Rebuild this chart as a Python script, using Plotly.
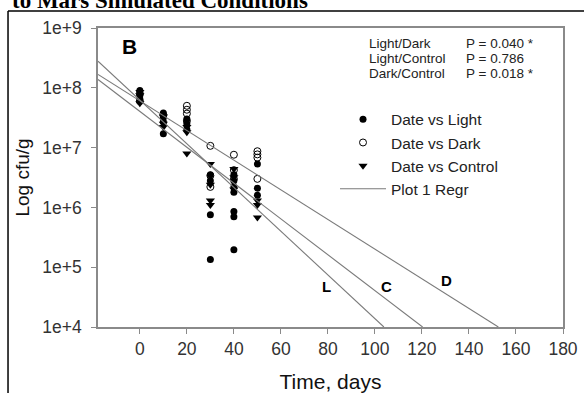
import numpy as np
import plotly.graph_objects as go

# ---- data ----
light_x = [0, 0, 0, 10, 10, 10, 10, 20, 20, 20, 30, 30, 30, 30,
           40, 40, 40, 40, 40, 40, 40, 50, 50, 50]
light_y = [9.0e7, 7.5e7, 6.5e7, 3.8e7, 3.2e7, 2.7e7, 1.7e7, 3.0e7, 2.5e7, 2.0e7,
           3.5e6, 2.8e6, 7.5e5, 1.35e5, 3.5e6, 2.8e6, 2.2e6, 1.8e6, 8.5e5, 7.0e5,
           1.95e5, 5.3e6, 2.1e6, 1.6e6]

dark_x = [0, 0, 10, 20, 20, 20, 20, 30, 30, 30, 40, 40, 40, 50, 50, 50, 50]
dark_y = [8.0e7, 6.0e7, 3.5e7, 5.0e7, 4.3e7, 3.7e7, 2.8e7, 1.07e7, 3.4e6, 2.2e6,
          7.6e6, 4.2e6, 3.0e6, 8.7e6, 7.7e6, 6.8e6, 3.0e6]

control_x = [0, 0, 0, 10, 10, 10, 20, 20, 20, 30, 30, 30, 30, 40, 40, 40, 50, 50, 50]
control_y = [8.5e7, 7.5e7, 5.5e7, 3.3e7, 2.5e7, 2.2e7, 2.2e7, 1.8e7, 8.0e6,
             5.3e6, 2.4e6, 1.3e6, 1.1e6, 4.4e6, 3.2e6, 2.0e6, 1.3e6, 1.1e6, 6.8e5]

# regression lines: log10(cfu/g) = intercept + slope * day
regr_names = ["L", "C", "D"]
regr_intercept = [7.794, 7.606, 7.782]
regr_slope = [-0.03655, -0.02998, -0.0248]
regr_label_x = [79.5, 104.8, 130.4]
regr_label_logy = [4.68, 4.68, 4.78]

p_pairs = ["Light/Dark", "Light/Control", "Dark/Control"]
p_values = ["P = 0.040 *", "P = 0.786", "P = 0.018 *"]

x_ticks = [0, 20, 40, 60, 80, 100, 120, 140, 160, 180]
y_ticks = [1e4, 1e5, 1e6, 1e7, 1e8, 1e9]
y_ticktext = ["1e+4", "1e+5", "1e+6", "1e+7", "1e+8", "1e+9"]

X_RANGE = [-17.8, 180]
Y_LOG_MIN = 4

FONT = "Liberation Sans, Arial, sans-serif"
AXIS_GRAY = "#8a8a8a"
TEXT_GRAY = "#333333"

fig = go.Figure()

fig.add_trace(go.Scatter(
    x=light_x, y=light_y, mode="markers", name="Date vs Light", legendrank=1,
    marker=dict(symbol="circle", size=7, color="black", line=dict(width=0))))
fig.add_trace(go.Scatter(
    x=control_x, y=control_y, mode="markers", name="Date vs Control", legendrank=3,
    marker=dict(symbol="triangle-down", size=8, color="black", line=dict(width=0))))
fig.add_trace(go.Scatter(
    x=dark_x, y=dark_y, mode="markers", name="Date vs Dark", legendrank=2,
    marker=dict(symbol="circle-open", size=7, color="black", line=dict(width=1))))

for i, (b0, b1) in enumerate(zip(regr_intercept, regr_slope)):
    x_end = (Y_LOG_MIN - b0) / b1
    xs = np.linspace(X_RANGE[0], x_end, 50)
    ys = 10 ** (b0 + b1 * xs)
    fig.add_trace(go.Scatter(
        x=xs, y=ys, mode="lines", name="Plot 1 Regr", legendgroup="regr",
        legendrank=4, showlegend=(i == 0),
        line=dict(color="#7a7a7a", width=1.1), hoverinfo="skip"))

annotations = []
for name, lx, ly in zip(regr_names, regr_label_x, regr_label_logy):
    annotations.append(dict(x=lx, y=ly, xref="x", yref="y", text="<b>%s</b>" % name,
                            showarrow=False, font=dict(family=FONT, size=15, color="black")))

p_rows_y = [0.947, 0.897, 0.847]
for pair, pv, yy in zip(p_pairs, p_values, p_rows_y):
    annotations.append(dict(x=0.578, y=yy, xref="paper", yref="paper", text=pair,
                            xanchor="left", yanchor="middle", showarrow=False,
                            font=dict(family=FONT, size=13.5, color="#222")))
    annotations.append(dict(x=0.787, y=yy, xref="paper", yref="paper", text=pv,
                            xanchor="left", yanchor="middle", showarrow=False,
                            font=dict(family=FONT, size=13.5, color="#222")))

annotations.append(dict(x=0.0688, y=0.9375, xref="paper", yref="paper", text="<b>B</b>",
                        showarrow=False, xanchor="center", yanchor="middle",
                        font=dict(family=FONT, size=21, color="black")))

annotations.append(dict(x=-0.19, y=1.045, xref="paper", yref="paper",
                        text="<b>to Mars Simulated Conditions</b>",
                        showarrow=False, xanchor="left", yanchor="bottom",
                        font=dict(family="Liberation Serif, Times New Roman, serif",
                                  size=23, color="black")))

shapes = [
    dict(type="line", xref="paper", yref="paper", x0=-0.1935, x1=-0.1935,
         y0=1.0569, y1=-0.3, line=dict(color="black", width=1.5)),
    dict(type="line", xref="paper", yref="paper", x0=-0.1935, x1=1.2,
         y0=1.0569, y1=1.0569, line=dict(color="black", width=1.5)),
]

fig.update_layout(
    width=584, height=393,
    margin=dict(l=98, r=21, t=28, b=66),
    paper_bgcolor="white", plot_bgcolor="white",
    font=dict(family=FONT, color=TEXT_GRAY),
    annotations=annotations, shapes=shapes,
    legend=dict(x=0.5097, y=0.75, xanchor="left", yanchor="top",
                bgcolor="rgba(0,0,0,0)", borderwidth=0,
                font=dict(family=FONT, size=15.5, color="#222"),
                tracegroupgap=0, itemwidth=46),
    showlegend=True,
)

fig.update_xaxes(
    automargin=False,
    range=X_RANGE, tickvals=x_ticks, ticks="outside", ticklen=5, tickwidth=1.2,
    tickcolor=AXIS_GRAY, showline=True, linecolor=AXIS_GRAY, linewidth=1.5,
    mirror=True, showgrid=False, zeroline=False,
    tickfont=dict(family=FONT, size=17.5, color=TEXT_GRAY), ticklabelstandoff=0,
    title=dict(text="Time, days", font=dict(family=FONT, size=21, color="#111"),
               standoff=26),
)
fig.update_yaxes(
    automargin=False,
    type="log", range=[4, 9], tickvals=y_ticks, ticktext=y_ticktext,
    ticks="outside", ticklen=5, tickwidth=1.2, tickcolor=AXIS_GRAY,
    showline=True, linecolor=AXIS_GRAY, linewidth=1.5, mirror=True,
    showgrid=False, zeroline=False,
    tickfont=dict(family=FONT, size=17.5, color=TEXT_GRAY), ticklabelstandoff=6,
    title=dict(text="Log cfu/g", font=dict(family=FONT, size=19, color="#111"),
               standoff=8),
)

fig.write_html("out.html", config={"displayModeBar": False},
               post_script="document.body.style.margin='0';")
